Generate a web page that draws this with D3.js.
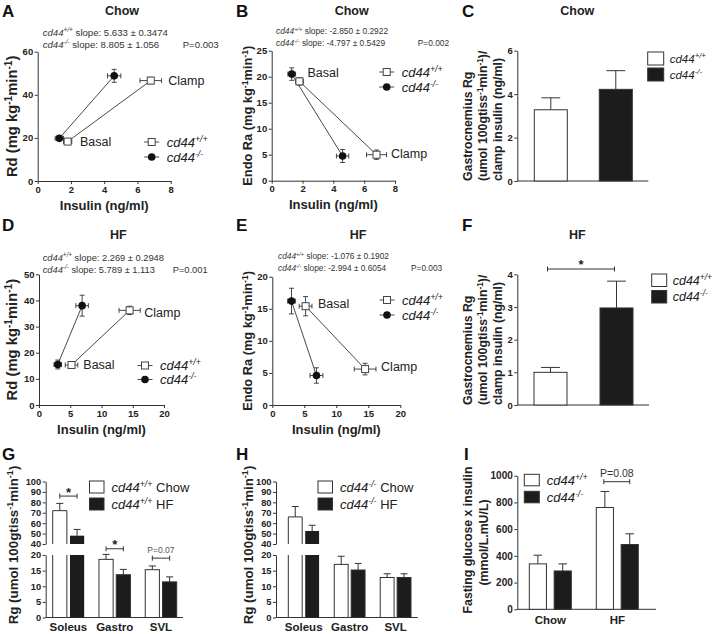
<!DOCTYPE html>
<html><head><meta charset="utf-8">
<script src="https://cdn.jsdelivr.net/npm/d3@7"></script>
<style>body{margin:0;background:#fff}svg{display:block}</style>
</head><body>
<svg id="chart" width="716" height="634"></svg>
<script>
// ---------------- DATA ----------------
const phases = ["Basal", "Clamp"];
const genotypes = ["cd44+/+", "cd44-/-"];
// Chow clamp (panels A, B): insulin (x), Rd, Endo Ra  [basal, clamp]
const chowInsWT = [1.8, 6.8],  chowInsWTErr = [0.25, 0.65];
const chowInsKO = [1.3, 4.6],  chowInsKOErr = [0.25, 0.4];
const chowRdWT = [18.3, 46.6], chowRdWTErr = [1.0, 1.5];
const chowRdKO = [19.8, 48.8], chowRdKOErr = [1.0, 3.0];
const chowRaWT = [19.1, 5.0],  chowRaWTErr = [0.7, 0.9];
const chowRaKO = [20.5, 4.75], chowRaKOErr = [1.2, 1.25];
// HF clamp (panels D, E)
const hfInsWT = [5.2, 14.5], hfInsWTErr = [1.0, 1.7];
const hfInsKO = [3.0, 6.9],  hfInsKOErr = [0.6, 1.0];
const hfRdWT = [15.3, 36.2], hfRdWTErr = [0.8, 1.6];
const hfRdKO = [15.5, 38.0], hfRdKOErr = [1.7, 4.0];
const hfRaWT = [15.4, 5.6],  hfRaWTErr = [1.5, 0.9];
const hfRaKO = [16.2, 4.6],  hfRaKOErr = [2.0, 1.2];
// slope annotations
const slopesA = ["5.633 \u00b1 0.3474", "8.805 \u00b1 1.056"],   pA = "P=0.003";
const slopesB = ["-2.850 \u00b1 0.2922", "-4.797 \u00b1 0.5429"], pB = "P=0.002";
const slopesD = ["2.269 \u00b1 0.2948", "5.789 \u00b1 1.113"],   pD = "P=0.001";
const slopesE = ["-1.076 \u00b1 0.1902", "-2.994 \u00b1 0.6054"], pE = "P=0.003";
// Gastrocnemius Rg / clamp insulin (C chow, F HF) [WT, KO]
const chowRgIns = [3.28, 4.22], chowRgInsErr = [0.55, 0.86];
const hfRgIns = [1.0, 2.97],    hfRgInsErr = [0.15, 0.82];
// Rg by muscle (G: cd44+/+, H: cd44-/-)
const muscles = ["Soleus", "Gastro", "SVL"];
const wtChowRg = [72, 18.6, 15.3], wtChowRgErr = [7, 1.6, 1.2];
const wtHfRg   = [48, 13.7, 11.4], wtHfRgErr   = [6, 1.7, 1.6];
const koChowRg = [66, 17.0, 12.8], koChowRgErr = [10, 2.6, 1.2];
const koHfRg   = [52.5, 15.2, 12.8], koHfRgErr = [5.5, 2.1, 1.2];
// Fasting glucose x insulin (I)
const diets = ["Chow", "HF"];
const wtGxI = [340, 762], wtGxIErr = [65, 120];
const koGxI = [287, 485], koGxIErr = [53, 80];
// tick labels
const ticksX8 = [0, 2, 4, 6, 8], ticksX20 = [0, 5, 10, 15, 20];
const ticksA = [0, 20, 40, 60], ticksB = [0, 5, 10, 15, 20, 25];
const ticksC = [0, 2, 4, 6], ticksD = [0, 10, 20, 30, 40, 50];
const ticksE = [0, 5, 10, 15, 20], ticksF = [0, 1, 2, 3, 4];
const ticksRgLow = [0, 5, 10, 15, 20], ticksRgHigh = [40, 50, 60, 70, 80, 90, 100];
const ticksI = [0, 200, 400, 600, 800, 1000];

// ---------------- HELPERS ----------------
const FONT = "'Liberation Sans', Arial, Helvetica, sans-serif";
const INK = "#222";
const fmt = d3.format("d");
const svg = d3.select("#chart");
svg.append("rect").attr("width", 716).attr("height", 634).attr("fill", "#fff");

const gt = [[["cd44", "i"], ["+/+", "is"]], [["cd44", "i"], ["-/-", "is"]]];
const perMin = ["(mg kg", ["-1", "s"], "min", ["-1", "s"], ")"];
const perTiss = ["(umol 100gtiss", ["-1", "s"], "min", ["-1", "s"], ")"];

function rich(parent, x, y, parts, o = {}) {
  const size = o.size || 12;
  const t = parent.append("text").attr("x", x).attr("y", y)
    .attr("font-family", FONT).attr("font-size", size)
    .attr("font-weight", o.weight || "normal").attr("fill", o.fill || INK)
    .attr("text-anchor", o.anchor || "start");
  if (o.rotate) t.attr("transform", `rotate(-90,${x},${y})`);
  let up = false; const sh = size * 0.38;
  parts.forEach(p => {
    const str = typeof p === "string" ? p : p[0];
    const st = typeof p === "string" ? "" : p[1];
    const sp = t.append("tspan").text(str);
    if (st.includes("i")) sp.attr("font-style", "italic");
    if (st.includes("s")) { sp.attr("font-size", size * 0.68); if (!up) { sp.attr("dy", -sh); up = true; } }
    else if (up) { sp.attr("dy", sh); up = false; }
  });
  return t;
}
function styleAxis(sel, fs) {
  sel.attr("font-family", FONT);
  sel.selectAll(".domain, .tick line").attr("stroke", "#333").attr("stroke-width", 1);
  sel.selectAll(".tick text").attr("font-size", fs).attr("font-weight", "bold").attr("fill", INK);
  return sel;
}
function leftAxis(g, scale, ticks, x, fs) {
  return styleAxis(g.append("g").attr("transform", `translate(${x},0)`)
    .call(d3.axisLeft(scale).tickValues(ticks).tickFormat(fmt).tickSize(3).tickSizeOuter(0).tickPadding(1.5)), fs);
}
function marker(g, kind, cx, cy) {
  if (kind === 0) g.append("rect").attr("x", cx - 3.5).attr("y", cy - 3.5).attr("width", 7).attr("height", 7)
    .attr("fill", "#fff").attr("stroke", "#444").attr("stroke-width", 1);
  else g.append("circle").attr("cx", cx).attr("cy", cy).attr("r", 3.8).attr("fill", "#111");
}
function bracket(g, x0, x1, y) {
  g.append("path").attr("d", `M${x0},${y}H${x1}M${x0},${y - 2.5}V${y + 2.5}M${x1},${y - 2.5}V${y + 2.5}`)
    .attr("stroke", "#333").attr("stroke-width", 1).attr("fill", "none");
}
function star(g, x, y) {
  g.append("text").attr("x", x).attr("y", y).text("*").attr("text-anchor", "middle")
    .attr("font-family", FONT).attr("font-size", 13).attr("font-weight", "bold").attr("fill", INK);
}
function upErr(g, cx, yTop, yErr, w) {
  g.append("path").attr("d", `M${cx},${yTop}V${yErr}M${cx - w / 2},${yErr}H${cx + w / 2}`)
    .attr("stroke", "#333").attr("stroke-width", 1).attr("fill", "none");
}
function band(domain, r0, r1, pi) {
  return d3.scaleBand().domain(domain).range([r0, r1]).paddingInner(pi).paddingOuter(0);
}

// ---------------- PANEL LETTERS & TITLES ----------------
[["A", 2, 17], ["B", 236, 17], ["C", 462, 17], ["D", 2, 231], ["E", 236, 231], ["F", 462, 231],
 ["G", 2, 460], ["H", 236, 460], ["I", 464, 460]].forEach(([t, x, y]) =>
  svg.append("text").attr("x", x).attr("y", y).text(t).attr("font-family", FONT)
    .attr("font-size", 17).attr("font-weight", "bold").attr("fill", "#111"));
[["Chow", 122, 14.5], ["Chow", 351.7, 14.5], ["Chow", 577.3, 14.5],
 ["HF", 118.3, 238.5], ["HF", 358, 238.5], ["HF", 577.3, 238.5]].forEach(([t, x, y]) =>
  svg.append("text").attr("x", x).attr("y", y).text(t).attr("text-anchor", "middle").attr("font-family", FONT)
    .attr("font-size", 12.5).attr("font-weight", "bold").attr("fill", INK));

// ---------------- SCATTER PANELS ----------------
function scatter(o) {
  const g = svg.append("g");
  const x = d3.scaleLinear().domain(o.xd).range(o.xr);
  const y = d3.scaleLinear().domain(o.yd).range(o.yr);
  styleAxis(g.append("g").attr("transform", `translate(0,${o.yr[0]})`)
    .call(d3.axisBottom(x).tickValues(o.xt).tickFormat(fmt).tickSize(3).tickSizeOuter(0).tickPadding(2)), 9.5);
  leftAxis(g, y, o.yt, o.xr[0], 9.5);
  const ser = o.series.map((s, k) => ({ kind: k,
    pts: phases.map((p, i) => ({ x: s[0][i], xe: s[1][i], y: s[2][i], ye: s[3][i] })) }));
  const line = d3.line().x(d => x(d.x)).y(d => y(d.y));
  ser.forEach(s => g.append("path").attr("d", line(s.pts)).attr("fill", "none")
    .attr("stroke", "#333").attr("stroke-width", 0.9));
  const c = 2.5;
  ser.forEach(s => s.pts.forEach(d => {
    const cx = x(d.x), cy = y(d.y), x0 = x(d.x - d.xe), x1 = x(d.x + d.xe), y0 = y(d.y - d.ye), y1 = y(d.y + d.ye);
    g.append("path").attr("d",
      `M${x0},${cy}H${x1}M${x0},${cy - c}V${cy + c}M${x1},${cy - c}V${cy + c}M${cx},${y0}V${y1}M${cx - c},${y0}H${cx + c}M${cx - c},${y1}H${cx + c}`)
      .attr("stroke", "#333").attr("stroke-width", 0.9).attr("fill", "none");
  }));
  ser.forEach(s => s.pts.forEach(d => marker(g, s.kind, x(d.x), y(d.y))));
  // Basal / Clamp labels next to the cd44+/+ points
  o.lab.forEach((l, i) => {
    const d = ser[0].pts[i];
    g.append("text").attr("x", x(d.x) + l[0]).attr("y", y(d.y) + l[1]).text(phases[i])
      .attr("font-family", FONT).attr("font-size", 12.5).attr("fill", INK);
  });
  // legend
  const [lx, ly, ldy] = o.leg;
  [0, 1].forEach(k => {
    const yy = ly + k * ldy;
    g.append("line").attr("x1", lx - 7.5).attr("x2", lx + 7.5).attr("y1", yy).attr("y2", yy)
      .attr("stroke", "#333").attr("stroke-width", 0.9);
    marker(g, k, lx, yy);
    rich(g, lx + 15, yy + 4.5, gt[k], { size: 13 });
  });
  // slope text
  const [sx, sy, px, sfs] = o.sl;
  rich(g, sx, sy, [...gt[0], " slope: " + o.slopes[0]], { size: sfs, fill: "#333" });
  rich(g, sx, sy + 12, [...gt[1], " slope: " + o.slopes[1]], { size: sfs, fill: "#333" });
  g.append("text").attr("x", px).attr("y", sy + 12).text(o.p).attr("font-family", FONT)
    .attr("font-size", sfs).attr("fill", "#333");
  // axis titles
  g.append("text").attr("x", (o.xr[0] + o.xr[1]) / 2).attr("y", o.yr[0] + 28.5).text("Insulin (ng/ml)")
    .attr("text-anchor", "middle").attr("font-family", FONT).attr("font-size", 13).attr("font-weight", "bold").attr("fill", INK);
  rich(g, o.ylx, (o.yr[0] + o.yr[1]) / 2, o.ylab, { size: o.yls, weight: "bold", anchor: "middle", rotate: true });
}

scatter({ xd: [0, 8], xr: [37.7, 170.7], yd: [0, 60], yr: [181, 51.7], xt: ticksX8, yt: ticksA,
  series: [[chowInsWT, chowInsWTErr, chowRdWT, chowRdWTErr], [chowInsKO, chowInsKOErr, chowRdKO, chowRdKOErr]],
  lab: [[12.4, 4.3], [17.5, 4.3]], leg: [151.7, 142, 15], sl: [42.7, 35.5, 182.7, 9.6], slopes: slopesA, p: pA,
  ylx: 17.5, ylab: ["Rd ", ...perMin], yls: 14.8 });
scatter({ xd: [0, 8], xr: [271.7, 395], yd: [0, 25], yr: [180.7, 50.7], xt: ticksX8, yt: ticksB,
  series: [[chowInsWT, chowInsWTErr, chowRaWT, chowRaWTErr], [chowInsKO, chowInsKOErr, chowRaKO, chowRaKOErr]],
  lab: [[8, -4.7], [14.5, 3.6]], leg: [386.7, 72, 15], sl: [276, 34, 417.7, 8.4], slopes: slopesB, p: pB,
  ylx: 252.5, ylab: ["Endo Ra ", ...perMin], yls: 12.8 });
scatter({ xd: [0, 20], xr: [39, 164], yd: [0, 50], yr: [405, 274.3], xt: ticksX20, yt: ticksD,
  series: [[hfInsWT, hfInsWTErr, hfRdWT, hfRdWTErr], [hfInsKO, hfInsKOErr, hfRdKO, hfRdKOErr]],
  lab: [[11.8, 4.3], [14.7, 6.2]], leg: [145, 365.5, 14], sl: [42.7, 260.5, 172.7, 9.3], slopes: slopesD, p: pD,
  ylx: 17.5, ylab: ["Rd ", ...perMin], yls: 14.8 });
scatter({ xd: [0, 20], xr: [272.3, 400.3], yd: [0, 20], yr: [405, 276.7], xt: ticksX20, yt: ticksE,
  series: [[hfInsWT, hfInsWTErr, hfRaWT, hfRaWTErr], [hfInsKO, hfInsKOErr, hfRaKO, hfRaKOErr]],
  lab: [[12.4, 1.3], [16, 2.3]], leg: [387, 300, 15], sl: [278, 259, 411, 8.3], slopes: slopesE, p: pE,
  ylx: 252.5, ylab: ["Endo Ra ", ...perMin], yls: 12.8 });

// ---------------- C / F PAIR BARS ----------------
function pairBars(o) {
  const g = svg.append("g");
  const y = d3.scaleLinear().domain(o.yd).range(o.yr);
  leftAxis(g, y, o.yt, o.ax, 9.5);
  g.append("line").attr("x1", o.ax).attr("x2", o.axEnd).attr("y1", y(0)).attr("y2", y(0)).attr("stroke", "#333");
  const x = band(genotypes, o.br[0], o.br[1], o.pi);
  genotypes.forEach((k, i) => {
    const v = o.vals[i], e = o.errs[i], bw = x.bandwidth(), cx = x(k) + bw / 2;
    upErr(g, cx, y(v), y(v + e), bw * 0.57);
    g.append("rect").attr("x", x(k)).attr("y", y(v)).attr("width", bw).attr("height", y(0) - y(v))
      .attr("fill", i ? "#1c1c1c" : "#fff").attr("stroke", "#333").attr("stroke-width", 1);
  });
  if (o.sig) {
    const a = x(genotypes[0]) + x.bandwidth() / 2 - 3, b = x(genotypes[1]) + x.bandwidth() / 2 - 2;
    bracket(g, a, b, o.sig);
    star(g, (a + b) / 2, o.sig);
  }
  // legend
  const [lx, ly, lw, lh, ldy, fs] = o.leg;
  [0, 1].forEach(k => {
    g.append("rect").attr("x", lx).attr("y", ly + k * ldy).attr("width", lw).attr("height", lh)
      .attr("fill", k ? "#1c1c1c" : "#fff").attr("stroke", "#333");
    rich(g, lx + lw + 6, ly + k * ldy + lh / 2 + fs * 0.35, gt[k], { size: fs });
  });
  // y label (three lines)
  const ylines = [["Gastrocnemius Rg"], [...perTiss, "/"], ["clamp insulin (ng/ml)"]];
  ylines.forEach((parts, i) => rich(g, 472.3 + i * 15, y(0), parts, { size: 12.3, weight: "bold", rotate: true }));
}
pairBars({ yd: [0, 6], yr: [181, 50.7], yt: ticksC, ax: 517.3, axEnd: 648.3, br: [534.3, 632.3], pi: 0.492,
  vals: chowRgIns, errs: chowRgInsErr, leg: [647.7, 52, 16, 13, 16, 11.5] });
pairBars({ yd: [0, 4], yr: [405, 274.3], yt: ticksF, ax: 517.3, axEnd: 649, br: [534, 633], pi: 0.5,
  vals: hfRgIns, errs: hfRgInsErr, sig: 269, leg: [651.7, 274, 15, 12.5, 16.5, 12.5] });

// ---------------- G / H BROKEN-AXIS GROUPED BARS ----------------
function rgPanel(o) {
  const g = svg.append("g");
  const yLow = d3.scaleLinear().domain([0, 20]).range([617.5, 555]);
  const yHigh = d3.scaleLinear().domain([40, 100]).range([544, 481.5]);
  leftAxis(g, yLow, ticksRgLow, o.ax, 9.3);
  leftAxis(g, yHigh, ticksRgHigh, o.ax, 9.3);
  g.append("line").attr("x1", o.ax).attr("x2", o.axEnd).attr("y1", yLow(0)).attr("y2", yLow(0)).attr("stroke", "#333");
  const outer = band(muscles, o.br[0], o.br[1], o.pi);
  const inner = band([0, 1], 0, outer.bandwidth(), 0.18);
  const bw = inner.bandwidth();
  const series = [[o.s0, o.e0], [o.s1, o.e1]];
  muscles.forEach((m, mi) => {
    series.forEach(([vals, errs], k) => {
      const v = vals[mi], e = errs[mi], x0 = outer(m) + inner(k), x1 = x0 + bw, cx = x0 + bw / 2;
      const fill = k ? "#1c1c1c" : "#fff";
      if (v > 20) {
        upErr(g, cx, yHigh(v), yHigh(v + e), bw * 0.5);
        if (k) {
          g.append("rect").attr("x", x0).attr("y", yHigh(v)).attr("width", bw).attr("height", yHigh(40) - yHigh(v)).attr("fill", fill);
          g.append("rect").attr("x", x0).attr("y", yLow(20)).attr("width", bw).attr("height", yLow(0) - yLow(20)).attr("fill", fill);
        } else {
          g.append("path").attr("d", `M${x0},${yHigh(40)}V${yHigh(v)}H${x1}V${yHigh(40)}M${x0},${yLow(20)}V${yLow(0)}M${x1},${yLow(0)}V${yLow(20)}`)
            .attr("fill", "none").attr("stroke", "#333");
        }
      } else {
        upErr(g, cx, yLow(v), yLow(v + e), bw * 0.5);
        g.append("rect").attr("x", x0).attr("y", yLow(v)).attr("width", bw).attr("height", yLow(0) - yLow(v))
          .attr("fill", fill).attr("stroke", "#333");
      }
    });
    g.append("text").attr("x", outer(m) + outer.bandwidth() / 2).attr("y", 630.5).text(m).attr("text-anchor", "middle")
      .attr("font-family", FONT).attr("font-size", 11.5).attr("font-weight", "bold").attr("fill", INK);
  });
  (o.sig || []).forEach(([mi, yy, label]) => {
    const m = muscles[mi];
    const a = outer(m) + inner(0) + bw / 2, b = outer(m) + inner(1) + bw / 2;
    const yv = yy > 40 ? yHigh(yy) : yLow(yy);
    bracket(g, a, b, yv);
    if (label === "*") star(g, (a + b) / 2, yv + 0.5);
    else g.append("text").attr("x", (a + b) / 2).attr("y", yv - 5).text(label).attr("text-anchor", "middle")
      .attr("font-family", FONT).attr("font-size", 8.5).attr("fill", "#555");
  });
  // legend
  const [lx, ly] = o.leg;
  ["Chow", "HF"].forEach((d, k) => {
    g.append("rect").attr("x", lx).attr("y", ly + k * 17).attr("width", 14.5).attr("height", 12)
      .attr("fill", k ? "#1c1c1c" : "#fff").attr("stroke", "#333");
    rich(g, lx + 22, ly + k * 17 + 11, [...gt[o.gt], " " + d], { size: 13 });
  });
  rich(g, o.ylx, 545, ["Rg ", ...perTiss], { size: 13.3, weight: "bold", anchor: "middle", rotate: true });
}
rgPanel({ ax: 45.7, axEnd: 183, br: [52.7, 176.7], pi: 0.32, s0: wtChowRg, e0: wtChowRgErr, s1: wtHfRg, e1: wtHfRgErr,
  gt: 0, leg: [89.5, 481], ylx: 18,
  sig: [[0, 86, "*"], [1, 22, "*"], [2, 19, "P=0.07"]] });
rgPanel({ ax: 276, axEnd: 417.7, br: [288.3, 411], pi: 0.33, s0: koChowRg, e0: koChowRgErr, s1: koHfRg, e1: koHfRgErr,
  gt: 1, leg: [318, 481], ylx: 253 });

// ---------------- I ----------------
(function () {
  const g = svg.append("g");
  const y = d3.scaleLinear().domain([0, 1000]).range([609.3, 475.7]);
  leftAxis(g, y, ticksI, 517.3, 10);
  g.append("line").attr("x1", 517.3).attr("x2", 656).attr("y1", y(0)).attr("y2", y(0)).attr("stroke", "#333");
  const outer = band(diets, 529.3, 638.3, 0.373);
  const inner = band([0, 1], 0, outer.bandwidth(), 0.31);
  const bw = inner.bandwidth();
  const series = [[wtGxI, wtGxIErr], [koGxI, koGxIErr]];
  diets.forEach((dd, di) => {
    series.forEach(([vals, errs], k) => {
      const v = vals[di], e = errs[di], x0 = outer(dd) + inner(k), cx = x0 + bw / 2;
      upErr(g, cx, y(v), y(v + e), bw * 0.5);
      g.append("rect").attr("x", x0).attr("y", y(v)).attr("width", bw).attr("height", y(0) - y(v))
        .attr("fill", k ? "#1c1c1c" : "#fff").attr("stroke", "#333");
    });
    g.append("text").attr("x", outer(dd) + outer.bandwidth() / 2).attr("y", 624).text(dd).attr("text-anchor", "middle")
      .attr("font-family", FONT).attr("font-size", 11.5).attr("font-weight", "bold").attr("fill", INK);
  });
  const a = outer("HF") + inner(0) + bw / 2 - 1, b = outer("HF") + inner(1) + bw / 2;
  bracket(g, a, b, 481.7);
  g.append("text").attr("x", (a + b) / 2).attr("y", 476.5).text("P=0.08").attr("text-anchor", "middle")
    .attr("font-family", FONT).attr("font-size", 10.5).attr("fill", "#333");
  [0, 1].forEach(k => {
    g.append("rect").attr("x", 524.3).attr("y", 474.3 + k * 17).attr("width", 15).attr("height", 11.5)
      .attr("fill", k ? "#1c1c1c" : "#fff").attr("stroke", "#333");
    rich(g, 546.7, 484.5 + k * 17, gt[k], { size: 13 });
  });
  rich(g, 472.3, 540, ["Fasting glucose x insulin"], { size: 12.3, weight: "bold", anchor: "middle", rotate: true });
  rich(g, 487.6, 542.5, ["(mmol/L.mU/L)"], { size: 12.3, weight: "bold", anchor: "middle", rotate: true });
})();
</script>
</body></html>
